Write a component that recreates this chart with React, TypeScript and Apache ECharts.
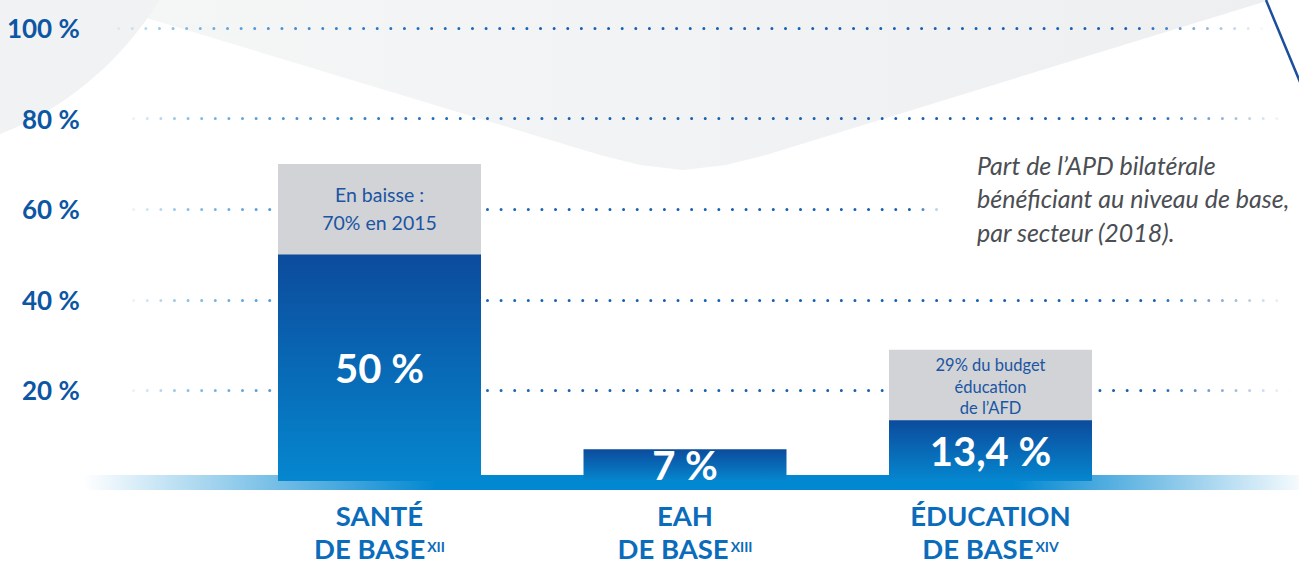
import React, { useEffect, useRef } from "react";
import * as echarts from "echarts";

// ---- data ----
const categoryNames = ["SANTÉ", "EAH", "ÉDUCATION"];
const categorySecondLine = ["DE BASE", "DE BASE", "DE BASE"];
const categorySup = ["XII", "XIII", "XIV"];
const shareValues = [50, 7, 13.4];
const shareLabels = ["50 %", "7 %", "13,4 %"];
const referenceValues: (number | null)[] = [70, null, 29];
const referenceNotes = ["En baisse :\n70% en 2015", "", "29% du budget\néducation\nde l’AFD"];
const yTicks = [20, 40, 60, 80, 100];
const noteText = "Part de l’APD bilatérale\nbénéficiant au niveau de base,\npar secteur (2018).";

const FONT = "Lato, 'Noto Sans', sans-serif";

function lineGradient(x0: number, x1: number, fade: number) {
  const len = x1 - x0;
  const f = (x: number) => Math.max(0, Math.min(1, (x - x0) / len));
  return new echarts.graphic.LinearGradient(
    x0,
    0,
    x1,
    0,
    [
      { offset: 0, color: "rgba(140,195,235,0)" },
      { offset: f(x0 + 60), color: "rgba(130,188,232,0.9)" },
      { offset: f(x0 + 150), color: "#4f9ad8" },
      { offset: f(x0 + 300), color: "#1f70c0" },
      { offset: f(x0 + 450), color: "#1560b2" },
      { offset: f(x1 - fade), color: "#1560b2" },
      { offset: 1, color: "rgba(21,96,178,0)" },
    ],
    true
  );
}

export default function App() {
  const ref = useRef<HTMLDivElement>(null);
  useEffect(() => {
    document.body.style.margin = "0";
    const chart = echarts.init(ref.current!, null, { renderer: "svg" });

    const lineExtents: Record<number, [number, number, number]> = {
      100: [105, 1268, 135],
      80: [120, 1288, 140],
      60: [120, 945, 30],
      40: [120, 1292, 140],
      20: [120, 1292, 140],
    };

    const markLineData = yTicks.map((v) => {
      const [x0, x1, fade] = lineExtents[v];
      return [
        {
          yAxis: v,
          x: x0,
          lineStyle: { color: lineGradient(x0, x1, fade), width: 3, type: [0.01, 13.6], cap: "round" },
        },
        { yAxis: v, x: x1 },
      ];
    });

    const grayData = referenceValues.map((v, i) =>
      v == null
        ? "-"
        : {
            value: v,
            label: {
              show: true,
              position: "insideTop",
              distance: i === 0 ? 17 : 5,
              formatter: referenceNotes[i],
              color: "#1b55a3",
              fontFamily: FONT,
              fontSize: i === 0 ? 19.5 : 16.5,
              lineHeight: i === 0 ? 28 : 21.5,
              align: "center",
            },
          }
    );

    const blueGradient = new echarts.graphic.LinearGradient(0, 0, 0, 1, [
      { offset: 0, color: "#0c4b9c" },
      { offset: 1, color: "#0587cf" },
    ]);

    const option: any = {
      animation: false,
      backgroundColor: "#ffffff",
      grid: { left: 226.75, right: 155.75, top: 28, bottom: 84 },
      xAxis: {
        type: "category",
        data: categoryNames,
        axisLine: { show: false },
        axisTick: { show: false },
        axisLabel: {
          margin: 10,
          interval: 0,
          formatter: (value: string, index: number) =>
            `{a|${value}}\n{b|${categorySecondLine[index]}}{s|${categorySup[index]}}`,
          rich: {
            a: { fontSize: 27.5, fontWeight: "bold", color: "#0b6cbb", fontFamily: FONT, lineHeight: 48 },
            b: { fontSize: 27.5, fontWeight: "bold", color: "#0b6cbb", fontFamily: FONT, lineHeight: 18 },
            s: {
              fontSize: 14,
              fontWeight: "bold",
              color: "#0b6cbb",
              fontFamily: FONT,
              lineHeight: 10,
              verticalAlign: "top",
              padding: [0, 0, 0, 2],
            },
          },
        },
      },
      yAxis: {
        type: "value",
        min: 0,
        max: 100,
        interval: 20,
        splitLine: { show: false },
        axisLine: { show: false },
        axisTick: { show: false },
        axisLabel: {
          margin: 147,
          formatter: (v: number) => (yTicks.includes(v) ? `${v} %` : ""),
          color: "#0c56a4",
          fontSize: 26,
          fontWeight: "bold",
          fontFamily: FONT,
        },
      },
      series: [
        {
          type: "bar",
          name: "reference",
          data: grayData,
          barWidth: 203,
          barGap: "-100%",
          itemStyle: { color: "#d1d3d6" },
          silent: true,
          markLine: {
            silent: true,
            z: 1,
            symbol: ["none", "none"],
            label: { show: false },
            emphasis: { disabled: true },
            data: markLineData,
          },
        },
        {
          type: "bar",
          name: "share",
          data: shareValues,
          barWidth: 203,
          barGap: "-100%",
          itemStyle: { color: blueGradient },
          silent: true,
          label: {
            show: true,
            position: "inside",
            formatter: (p: any) => shareLabels[p.dataIndex],
            color: "#ffffff",
            fontSize: 40,
            fontWeight: "bold",
            fontFamily: FONT,
          },
        },
      ],
      graphic: [
        {
          type: "polygon",
          z: -10,
          silent: true,
          shape: {
            points: [
              [87, 0],
              [600, 155],
              [640, 165],
              [683, 170],
              [726, 165],
              [766, 155],
              [1270, 0],
            ],
          },
          style: {
            fill: new echarts.graphic.LinearGradient(0, 0, 1, 0, [
              { offset: 0, color: "#f5f6f6" },
              { offset: 1, color: "#eeeff1" },
            ]),
          },
        },
        {
          type: "circle",
          z: -9,
          silent: true,
          shape: { cx: -120, cy: -170, r: 327 },
          style: { fill: "#f1f2f3" },
        },
        {
          type: "line",
          z: -8,
          silent: true,
          shape: { x1: 1266, y1: 0, x2: 1300, y2: 82 },
          style: { stroke: "#1b4f9c", lineWidth: 2.5 },
        },
        {
          type: "rect",
          z: 1,
          silent: true,
          shape: { x: 83, y: 475, width: 1216, height: 15 },
          style: {
            fill: new echarts.graphic.LinearGradient(0, 0, 1, 0, [
              { offset: 0, color: "rgba(2,136,209,0)" },
              { offset: 0.29, color: "rgba(2,136,209,1)" },
              { offset: 0.765, color: "rgba(2,136,209,1)" },
              { offset: 1, color: "rgba(2,136,209,0.04)" },
            ]),
          },
        },
        {
          type: "text",
          z: 5,
          silent: true,
          left: 977,
          top: 148,
          style: {
            text: noteText,
            fill: "#4b4e53",
            fontFamily: FONT,
            fontStyle: "italic",
            fontSize: 25,
            lineHeight: 33.5,
          },
        },
      ],
    };

    chart.setOption(option);
    return () => chart.dispose();
  }, []);

  return <div ref={ref} style={{ width: 1299, height: 565 }} />;
}
